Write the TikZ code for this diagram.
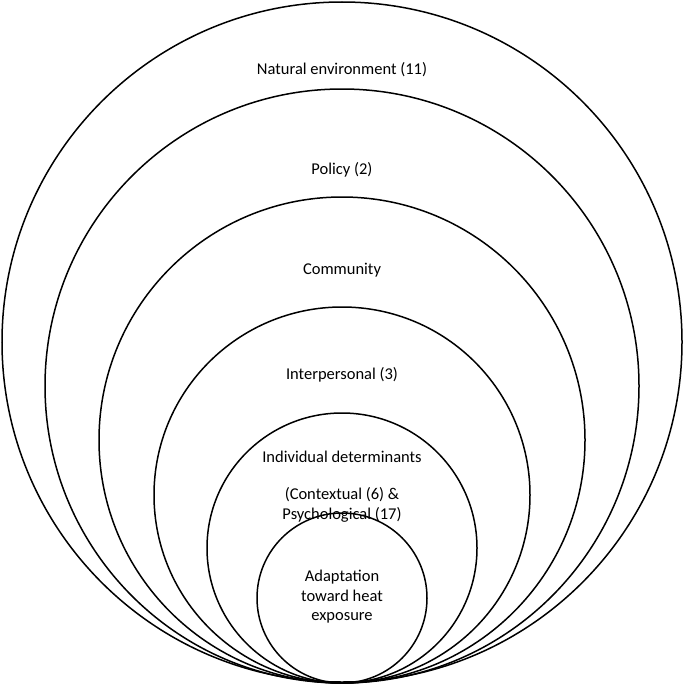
\documentclass[tikz,border=0pt]{standalone}
\usepackage{fontspec}
\setmainfont{Carlito}
\begin{document}
\begin{tikzpicture}[x=1pt,y=-1pt,ring/.style={draw=black,line width=1.5pt},lab/.style={font=\fontsize{16.5}{19.5}\selectfont,align=center}]
\useasboundingbox (0,0) rectangle (684,685);
\draw[ring] (342,342) circle (340);
\draw[ring] (342,386) circle (297);
\draw[ring] (342,440) circle (243);
\draw[ring] (342,495) circle (188);
\draw[ring] (342,548) circle (135);
\draw[ring] (342,598) circle (85);
\node[lab] (n1) at (342,70) {Natural environment (11)};
\node[lab] (n2) at (342,170) {Policy (2)};
\node[lab] (n3) at (342,270) {Community};
\node[lab] (n4) at (342,375) {Interpersonal (3)};
\node[lab] (n5) at (342,457) {Individual determinants};
\node[lab] (n5b) at (342,505) {(Contextual (6) \&\\Psychological (17)};
\node[lab] (n6) at (342,597) {Adaptation\\toward heat\\exposure};
\end{tikzpicture}
\end{document}
